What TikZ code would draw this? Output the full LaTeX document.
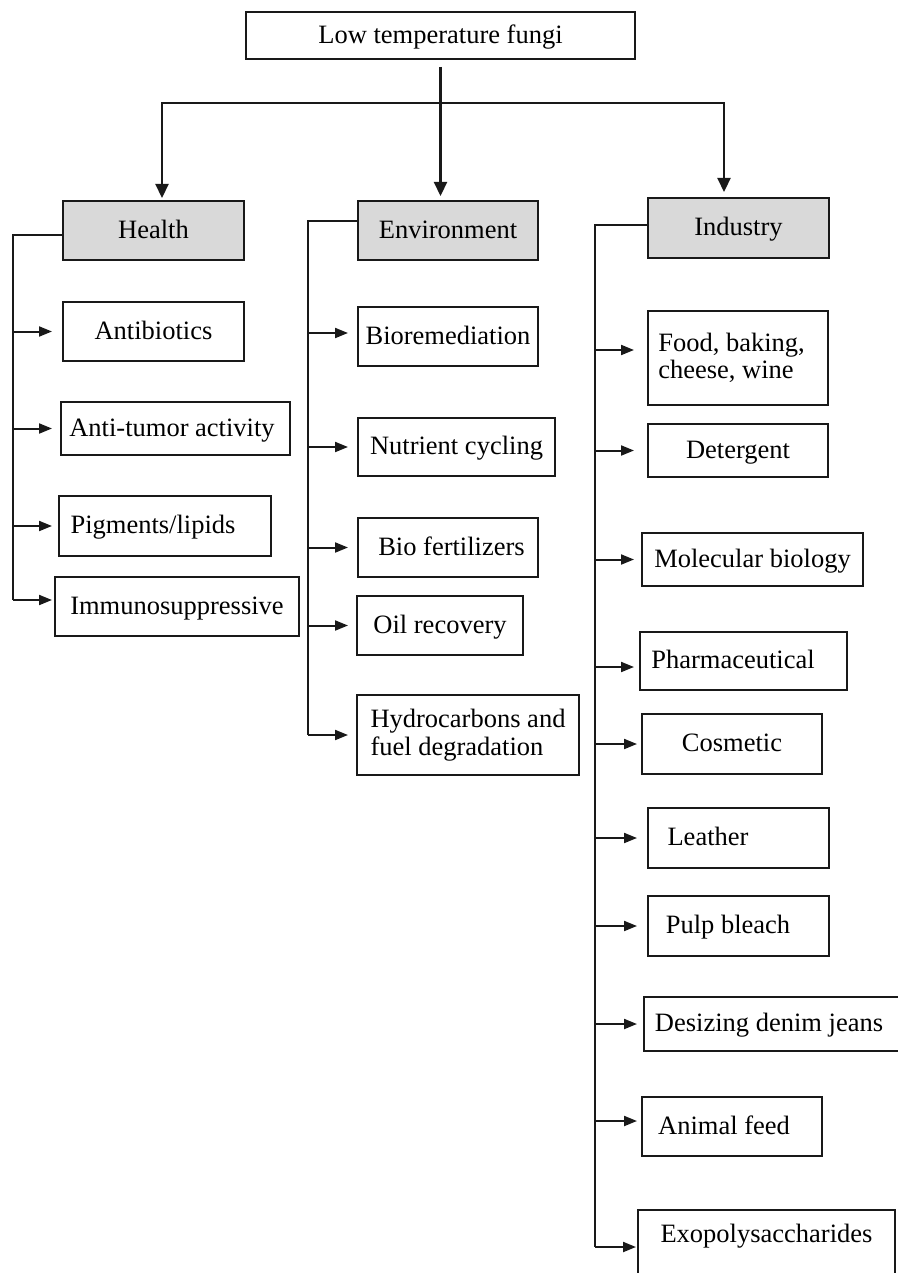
\documentclass[tikz,border=0pt]{standalone}
\usepackage{fontspec}
\setmainfont{Liberation Serif}
\usetikzlibrary{arrows.meta,calc}
\definecolor{headgray}{RGB}{217,217,217}
\definecolor{ink}{RGB}{25,25,25}
\begin{document}
\begin{tikzpicture}[x=1pt,y=-1pt,
  basebox/.style={draw=ink, line width=2pt, inner sep=0pt, font=\fontsize{26.5}{27.5}\selectfont},
  box/.style={basebox, text height=18pt, text depth=2.5pt},
  mbox/.style={basebox, align=left},
  hdr/.style={box, fill=headgray},
  br/.style={draw=ink, line width=1.3pt},
  arr/.style={draw=ink, line width=2pt, -{Triangle[length=13pt,width=10pt]}},
  mainarr/.style={draw=ink, line width=2.2pt, -{Triangle[length=14pt,width=13pt]}}
]
\useasboundingbox (0,0) rectangle (897,1273);

% top and headers
\node[box, minimum width=389pt, minimum height=47pt] (top) at (440.5,35.5) {Low temperature fungi};
\node[hdr, minimum width=181pt, minimum height=59pt] (health) at (153.5,230.5) {Health};
\node[hdr, minimum width=180pt, minimum height=59pt] (env) at (448,230.5) {Environment};
\node[hdr, minimum width=181pt, minimum height=60pt] (ind) at (738.5,228) {Industry};

% health items
\node[box, minimum width=181pt, minimum height=59pt] (antib) at (153.5,331.5) {Antibiotics};
\node[box, minimum width=229pt, minimum height=53pt] (anti) at (175.5,428.5) {Anti-tumor activity\hspace*{7pt}};
\node[box, minimum width=212pt, minimum height=60pt] (pig) at (165,526) {Pigments/lipids\hspace*{24pt}};
\node[box, minimum width=244pt, minimum height=59pt] (immuno) at (177,606.5) {Immunosuppressive};

% environment items
\node[box, minimum width=180pt, minimum height=59pt] (bio) at (448,336.5) {Bioremediation};
\node[box, minimum width=197pt, minimum height=58pt] (nutr) at (456.5,447) {Nutrient cycling};
\node[box, minimum width=180pt, minimum height=59pt] (biof) at (448,547.5) {\hspace*{7pt}Bio fertilizers};
\node[box, minimum width=166pt, minimum height=59pt] (oil) at (440,625.5) {Oil recovery};
\node[mbox, minimum width=222pt, minimum height=80pt] (hydro) at (468,735) {Hydrocarbons and\\fuel degradation};

% industry items
\node[mbox, minimum width=180pt, minimum height=94pt] (food) at (738,358) {Food, baking,\hspace*{13pt}\\cheese, wine};
\node[box, minimum width=180pt, minimum height=53pt] (det) at (738,450.5) {Detergent};
\node[box, minimum width=221pt, minimum height=53pt] (mol) at (752.5,559.5) {Molecular biology};
\node[box, minimum width=207pt, minimum height=58pt] (pharm) at (743.5,661) {Pharmaceutical\hspace*{21pt}};
\node[box, minimum width=180pt, minimum height=60pt] (cos) at (732,744) {Cosmetic};
\node[box, minimum width=181pt, minimum height=60pt] (leath) at (738.5,838) {Leather\hspace*{61pt}};
\node[box, minimum width=181pt, minimum height=60pt] (pulp) at (738.5,926) {Pulp bleach\hspace*{21pt}};
\node[box, minimum width=261pt, minimum height=54pt] (des) at (774.5,1024) {Desizing denim jeans\hspace*{11pt}};
\node[box, minimum width=180pt, minimum height=59pt] (animal) at (732,1126.5) {Animal feed\hspace*{16pt}};
\node[basebox, text height=18pt, text depth=32.5pt, minimum width=257pt, minimum height=80pt] (exo) at (766.5,1250) {Exopolysaccharides};

% main connectors
\coordinate (jl) at (162,103);
\coordinate (jr) at (724,103);
\draw[mainarr, shorten <=7pt, shorten >=4pt] (top.south) -- (top.south |- env.north);
\draw[mainarr, shorten >=2pt] (jr) -- (jl) -- (jl |- health.north);
\draw[mainarr, shorten >=5pt] (jl) -- (jr) -- (jr |- ind.north);

% health bracket
\coordinate (hb) at (13,600);
\draw[br] ($(health.west)+(0,4.5)$) -| (hb);
\draw[arr, shorten >=10pt] (hb |- antib.west) -- (antib.west);
\draw[arr, shorten >=8pt] (hb |- anti.west) -- (anti.west);
\draw[arr, shorten >=6pt] (hb |- pig.west) -- (pig.west);
\draw[arr, shorten >=2pt] (hb) -- ($(immuno.west)+(0,-6.5)$);

% environment bracket
\coordinate (eb) at (308,735);
\draw[br] ($(env.west)+(0,-9.5)$) -| (eb);
\draw[arr, shorten >=9pt] ($(eb |- bio.west)+(0,-3.5)$) -- ($(bio.west)+(0,-3.5)$);
\draw[arr, shorten >=9pt] (eb |- nutr.west) -- (nutr.west);
\draw[arr, shorten >=9pt] (eb |- biof.west) -- (biof.west);
\draw[arr, shorten >=8pt] (eb |- oil.west) -- (oil.west);
\draw[arr, shorten >=8pt] (eb) -- (hydro.west);

% industry bracket
\coordinate (ib) at (595,1247);
\draw[br] ($(ind.west)+(0,-3)$) -| (ib);
\draw[arr, shorten >=13pt] ($(ib |- food.west)+(0,-8)$) -- ($(food.west)+(0,-8)$);
\draw[arr, shorten >=13pt] (ib |- det.west) -- (det.west);
\draw[arr, shorten >=7pt] (ib |- mol.west) -- (mol.west);
\draw[arr, shorten >=5pt] ($(ib |- pharm.west)+(0,6)$) -- ($(pharm.west)+(0,6)$);
\draw[arr, shorten >=4pt] (ib |- cos.west) -- (cos.west);
\draw[arr, shorten >=10pt] (ib |- leath.west) -- (leath.west);
\draw[arr, shorten >=10pt] (ib |- pulp.west) -- (pulp.west);
\draw[arr, shorten >=6pt] (ib |- des.west) -- (des.west);
\draw[arr, shorten >=4pt] ($(ib |- animal.west)+(0,-5.5)$) -- ($(animal.west)+(0,-5.5)$);
\draw[arr, shorten >=1pt] (ib) -- ($(exo.west)+(0,-3)$);
\end{tikzpicture}
\end{document}
